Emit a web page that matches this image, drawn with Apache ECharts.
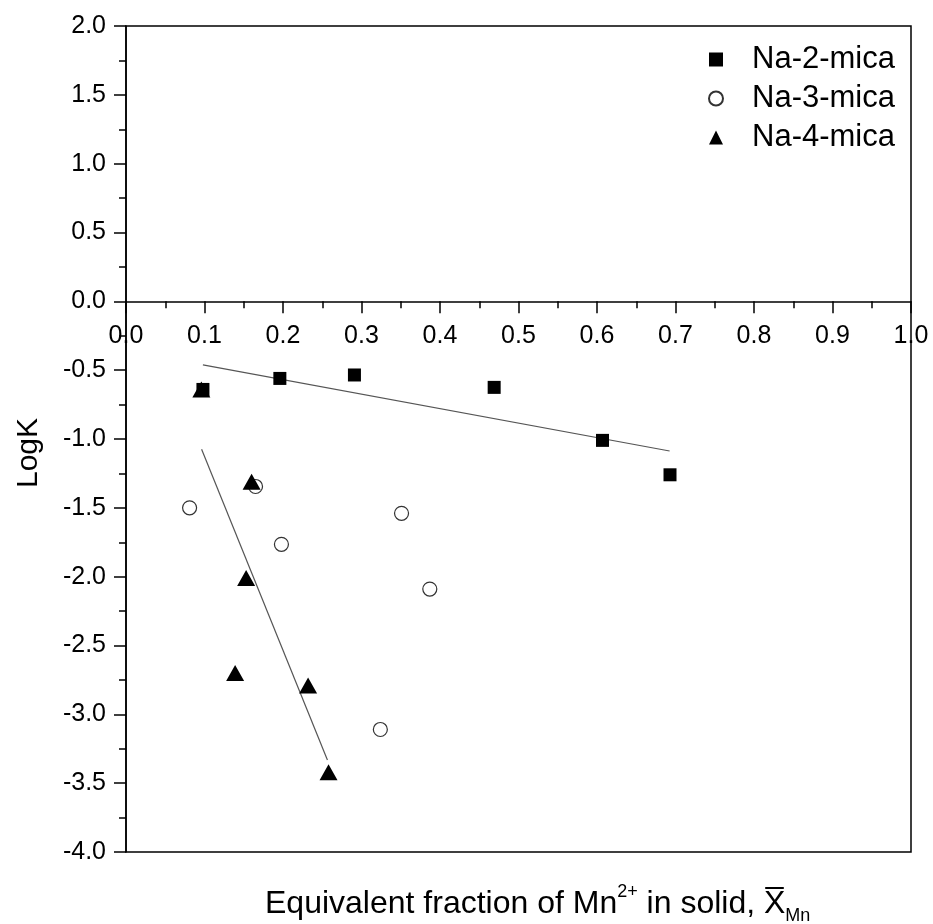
<!DOCTYPE html>
<html>
<head>
<meta charset="utf-8">
<script src="https://cdn.jsdelivr.net/npm/echarts@6/dist/echarts.min.js"></script>
<style>html,body{margin:0;padding:0;background:#fff;}#c{width:933px;height:924px;}</style>
</head>
<body>
<div id="c"></div>
<script>
// Data
var na2X = [0.098, 0.196, 0.291, 0.469, 0.607, 0.693];
var na2Y = [-0.64, -0.56, -0.535, -0.625, -1.01, -1.26];
var na3X = [0.081, 0.165, 0.198, 0.324, 0.351, 0.387];
var na3Y = [-1.50, -1.345, -1.765, -3.11, -1.54, -2.09];
var na4X = [0.096, 0.160, 0.153, 0.139, 0.232, 0.258];
var na4Y = [-0.64, -1.31, -2.01, -2.70, -2.79, -3.42];
var fit2X = [0.098, 0.6925];
var fit2Y = [-0.462, -1.087];
var fit4X = [0.0963, 0.2566];
var fit4Y = [-1.075, -3.332];
var seriesNames = ['Na-2-mica', 'Na-3-mica', 'Na-4-mica'];
var yMin = -4, yMax = 2;

function pairs(xs, ys) { return xs.map(function (x, i) { return [x, ys[i]]; }); }

var FONT = 'Liberation Sans, Arial, sans-serif';
var H = 924, gridTop = 26, gridBottom = 72;
var gridH = H - gridTop - gridBottom;
// x axis drawn through y = 0: shift it up from the bottom edge
var xOffset = -((0 - yMin) / (yMax - yMin)) * gridH;

var chart = echarts.init(document.getElementById('c'), null, { renderer: 'canvas' });
chart.setOption({
  backgroundColor: '#fff',
  animation: false,
  title: {
    left: 260, top: 878,
    text: '{a|Equivalent fraction of Mn}{sup|2+}{a| in solid, }{a|X\u0305}{sub|Mn}',
    textStyle: {
      fontWeight: 'normal',
      rich: {
        a: { fontFamily: FONT, fontSize: 32, fontWeight: 'normal', color: '#000', lineHeight: 42 },
        sup: { fontFamily: FONT, fontSize: 18, fontWeight: 'normal', color: '#000', lineHeight: 16, verticalAlign: 'top' },
        sub: { fontFamily: FONT, fontSize: 18, fontWeight: 'normal', color: '#000', lineHeight: 20, verticalAlign: 'bottom' }
      }
    }
  },
  legend: {
    orient: 'vertical', left: 703, top: 39,
    data: seriesNames,
    itemWidth: 14, itemHeight: 14, itemGap: 8,
    textStyle: { fontFamily: FONT, fontSize: 31, color: '#000', padding: [0, 0, 0, 24] }
  },
  grid: { left: 126, right: 22, top: gridTop, bottom: gridBottom, show: true, borderColor: '#000', borderWidth: 1.5, backgroundColor: 'transparent' },
  xAxis: {
    type: 'value', min: 0, max: 1, interval: 0.1, position: 'bottom', offset: xOffset,
    axisLine: { show: true, onZero: false, lineStyle: { color: '#000', width: 1.5 } },
    axisTick: { show: true, inside: false, length: 12, lineStyle: { color: '#000', width: 1.5 } },
    minorTick: { show: true, splitNumber: 2, length: 7, lineStyle: { color: '#000', width: 1.5 } },
    splitLine: { show: false },
    axisLabel: { fontFamily: FONT, fontSize: 25, color: '#000', margin: 22, showMinLabel: true, showMaxLabel: true,
      formatter: function (v) { return v.toFixed(1); } }
  },
  yAxis: {
    type: 'value', min: yMin, max: yMax, interval: 0.5,
    name: 'LogK', nameLocation: 'middle', nameGap: 82, nameRotate: 90,
    nameTextStyle: { fontFamily: FONT, fontSize: 30, color: '#000', padding: [0, 28, 0, 0] },
    axisLine: { show: true, onZero: false, lineStyle: { color: '#000', width: 1.5 } },
    axisTick: { show: true, inside: false, length: 12, lineStyle: { color: '#000', width: 1.5 } },
    minorTick: { show: true, splitNumber: 2, length: 7, lineStyle: { color: '#000', width: 1.5 } },
    splitLine: { show: false },
    axisLabel: { fontFamily: FONT, fontSize: 25, color: '#000', margin: 20,
      formatter: function (v) { return v.toFixed(1); } }
  },
  series: [
    { name: 'Na-2-mica', type: 'scatter', z: 5, symbol: 'rect', symbolSize: 13,
      itemStyle: { color: '#000', opacity: 1 }, data: pairs(na2X, na2Y) },
    { name: 'Na-3-mica', type: 'scatter', z: 3, symbol: 'circle', symbolSize: 14,
      itemStyle: { color: '#fff', borderColor: '#333', borderWidth: 1.2, opacity: 1 }, data: pairs(na3X, na3Y) },
    { name: 'Na-4-mica', type: 'scatter', z: 4, symbol: 'triangle', symbolSize: [18, 16],
      itemStyle: { color: '#000', opacity: 1 }, data: pairs(na4X, na4Y) },
    { name: 'fit2', type: 'line', z: 2, showSymbol: false, symbol: 'none', silent: true,
      lineStyle: { color: '#555', width: 1.2 }, data: pairs(fit2X, fit2Y) },
    { name: 'fit4', type: 'line', z: 2, showSymbol: false, symbol: 'none', silent: true,
      lineStyle: { color: '#555', width: 1.2 }, data: pairs(fit4X, fit4Y) }
  ]
});
</script>
</body>
</html>
